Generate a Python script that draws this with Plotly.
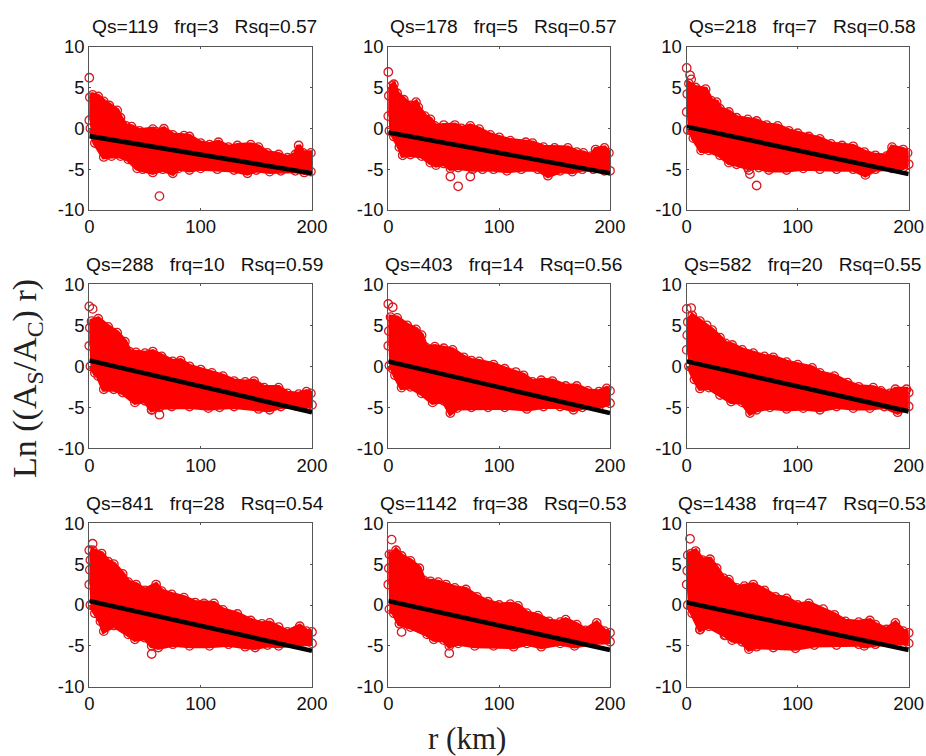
import plotly.graph_objects as go

W, H = 926, 756
FIG_BG = "white"

titles = ["Qs=119   frq=3   Rsq=0.57", "Qs=178   frq=5   Rsq=0.57", "Qs=218   frq=7   Rsq=0.58",
          "Qs=288   frq=10   Rsq=0.59", "Qs=403   frq=14   Rsq=0.56", "Qs=582   frq=20   Rsq=0.55",
          "Qs=841   frq=28   Rsq=0.54", "Qs=1142   frq=38   Rsq=0.53", "Qs=1438   frq=47   Rsq=0.53"]

x_ticks = [0, 100, 200]
x_tick_labels = ["0", "100", "200"]
y_ticks = [-10, -5, 0, 5, 10]
y_tick_labels = ["-10", "-5", "0", "5", "10"]

# Outer edge of each dense point cloud (r, value)
upper_1 = [(0,1),(0.5,3.8),(3,4.1),(8,3.9),(13,3.3),(18,2.8),(25,2.2),(28,1.3),(33,0.3),(38,0.2),(45,-0.3),(57,-0.1),(60,-0.4),(67,-0.05),(75,-0.8),(85,-0.9),(90,-1.0),(100,-1.8),(108,-2.0),(116,-1.7),(125,-2.3),(133,-2.1),(145,-2.0),(152,-2.3),(160,-3.0),(170,-3.2),(178,-3.6),(185,-3.2),(188,-2.1),(192,-3),(199,-3)]
lower_1 = [(1,0),(5,-1.8),(13,-3.5),(20,-3.4),(28,-3.4),(35,-3.8),(43,-4.9),(48,-5),(57,-5.4),(66,-5),(75,-5.5),(80,-4.9),(90,-5.1),(100,-4.9),(115,-5),(130,-5.1),(142,-5.5),(150,-5.1),(162,-5.3),(172,-5.2),(185,-5.2),(193,-5.4),(199,-5.3)]
outliers_1 = [(0,6.2),(63,-8.3)]
fit_1 = (-0.95, -5.5)

upper_2 = [(0,1.5),(0.5,4),(3,5.2),(5,5.4),(8,4.3),(14,3.5),(20,2.8),(25,3.2),(27,2.6),(33,1.5),(38,1.1),(42,0.3),(50,0.4),(60,0.4),(66,0),(74,0.3),(82,-0.1),(92,-0.8),(100,-1.1),(110,-1.5),(124,-1.7),(130,-1.8),(140,-2.3),(150,-2.4),(162,-2.4),(170,-2.9),(176,-3),(183,-3.4),(187,-2.6),(195,-2.4),(199,-3)]
lower_2 = [(1,-0.3),(5,-1),(10,-2.3),(13,-3.3),(20,-3.2),(30,-3.4),(38,-4.2),(43,-4.5),(50,-4.3),(56,-4.9),(63,-4.8),(76,-5),(85,-5),(95,-5),(107,-5.2),(120,-5),(135,-5),(144,-5.8),(155,-5.2),(166,-5.3),(175,-5),(185,-5),(195,-5.2),(200,-5.2)]
outliers_2 = [(0,6.9),(63,-7.1),(56,-5.9),(74,-5.9)]
fit_2 = (-0.5, -5.5)

upper_3 = [(0,2),(0.5,4.2),(2,5.5),(8,5),(17,4.8),(22,3.4),(27,3.2),(30,2.4),(38,2),(45,1.3),(55,1.1),(63,0.9),(72,0.4),(82,0.3),(92,-0.3),(100,-0.6),(110,-1),(120,-1.3),(130,-1.9),(140,-2.1),(150,-2.2),(160,-2.9),(170,-3.3),(180,-3.4),(185,-2.3),(195,-2.6),(199,-3)]
lower_3 = [(1,-0.2),(4,-0.3),(6,-1.2),(13,-2.7),(20,-2.7),(30,-3.3),(38,-4.2),(45,-4.4),(55,-4.8),(65,-4.8),(74,-5.1),(90,-5.1),(105,-4.9),(120,-5),(135,-5),(150,-5),(161,-5.7),(170,-5),(185,-4.9),(195,-4.8),(200,-4.4)]
outliers_3 = [(0,7.4),(3,6.5),(4,6),(56,-5.1),(57,-5.6),(63,-7)]
fit_3 = (0.2, -5.6)

upper_4 = [(0,2.5),(0.5,4.7),(2,5.5),(8,5.8),(17,4.8),(25,4.1),(32,3),(36,1.8),(42,1.7),(50,1.6),(57,1.8),(65,1.2),(75,0.6),(82,0.7),(90,0),(100,-0.4),(110,-0.8),(120,-1.2),(130,-1.8),(140,-1.9),(148,-1.8),(157,-2.6),(170,-2.6),(178,-3.3),(188,-3.4),(195,-3.1),(199,-3.3)]
lower_4 = [(1,0),(5,-0.8),(8,-1.2),(13,-2.8),(22,-2.8),(30,-3.2),(41,-4.4),(50,-4.2),(56,-5.3),(63,-5),(74,-4.9),(90,-4.9),(107,-5.1),(117,-5),(130,-4.9),(152,-5.2),(162,-5.3),(172,-4.9),(185,-4.8),(195,-4.9),(200,-4.7)]
outliers_4 = [(0,7.3),(3,7),(63,-5.9),(56,-5.3)]
fit_4 = (0.7, -5.6)

upper_5 = [(0,2.5),(0.5,4.3),(2,6),(8,5.9),(17,5),(25,4.5),(30,3.8),(34,2.3),(42,2.4),(50,2.2),(58,2),(68,1.1),(75,0.7),(82,0.6),(95,0.2),(105,-0.3),(115,-0.7),(122,-1.1),(130,-1.9),(138,-1.7),(148,-1.8),(160,-2.4),(170,-2.4),(180,-3),(190,-3.1),(197,-2.7),(200,-3)]
lower_5 = [(1,0.1),(4,-0.3),(6,-1.1),(12,-2.6),(20,-2.5),(30,-3.3),(40,-4.4),(50,-4.2),(56,-5.7),(62,-5.1),(75,-5),(90,-5),(105,-5),(125,-5.2),(140,-4.9),(155,-4.9),(167,-5.3),(175,-5),(190,-4.9),(200,-4.5)]
outliers_5 = [(0,7.6),(4,7.2)]
fit_5 = (0.6, -5.7)

upper_6 = [(0,2),(0.5,3.8),(1,5.4),(5,6.2),(12,5.5),(18,5),(23,4.4),(30,3.5),(35,2.8),(41,2.6),(50,2),(60,1.6),(70,1.2),(78,1.1),(90,0.5),(100,0.2),(113,-0.2),(120,-0.8),(133,-1.2),(145,-2),(155,-2.5),(168,-2.6),(175,-3),(183,-3.3),(188,-2.8),(198,-2.8),(200,-3.2)]
lower_6 = [(2,0),(7,-1.6),(12,-2.7),(20,-2.6),(30,-3.5),(40,-4.3),(50,-4.4),(57,-5.7),(63,-5.3),(75,-5),(90,-5.2),(105,-5.1),(120,-5.3),(135,-4.9),(150,-5.1),(165,-5.1),(178,-4.9),(190,-5.6),(200,-4.9)]
outliers_6 = [(0,7),(4,7.1)]
fit_6 = (0.6, -5.5)

upper_7 = [(0,2.5),(0.5,4.3),(1,5.5),(3,6.7),(11,6.3),(17,5.3),(22,5),(30,3.8),(35,2.8),(42,2.5),(50,1.8),(60,2.5),(65,1.7),(74,1.3),(85,0.9),(95,0.3),(103,0.2),(112,0.2),(120,-0.6),(133,-1.1),(145,-1.9),(155,-2.3),(162,-2.2),(170,-2.7),(178,-3.3),(189,-2.6),(195,-3.2),(200,-3.3)]
lower_7 = [(1,0),(5,-1),(10,-2),(13,-3.2),(22,-2.5),(35,-3.6),(41,-4.2),(50,-4),(56,-5),(62,-5.2),(75,-4.8),(90,-5),(108,-5),(125,-4.8),(140,-5.1),(149,-5.2),(160,-4.9),(170,-5),(185,-4.8),(200,-4.7)]
outliers_7 = [(3,7.5),(0,6.7),(56,-6)]
fit_7 = (0.5, -5.6)

upper_8 = [(0,2.5),(0.5,4.5),(1,6.2),(3,6.1),(7,6.7),(12,6),(20,5.4),(28,4.5),(32,3),(38,2.9),(45,2.8),(52,2.5),(60,2.1),(70,1.9),(80,1),(90,0.4),(100,0),(110,0.1),(117,-0.1),(125,-1),(135,-1.3),(145,-2),(155,-2.1),(160,-1.8),(170,-2.4),(178,-3.1),(188,-2.2),(195,-3.2),(200,-3.4)]
lower_8 = [(1,-0.5),(5,-1),(10,-2.3),(20,-2.7),(35,-3.6),(41,-4.2),(50,-4.3),(55,-5),(63,-4.7),(78,-5),(95,-5),(113,-5.1),(125,-4.7),(138,-5.1),(155,-4.7),(168,-5),(185,-4.6),(200,-4.5)]
outliers_8 = [(3,8),(12,-3.3),(55,-5.9)]
fit_8 = (0.5, -5.5)

upper_9 = [(0,2.5),(0.5,4.2),(1,6.1),(4,6.3),(8,6.6),(14,5.5),(21,5.6),(27,4.5),(33,3.3),(38,3.1),(45,2.1),(52,2.3),(60,2.5),(70,1.8),(80,1),(90,0.8),(100,0),(110,0.2),(123,-0.5),(133,-1.2),(143,-2),(155,-2.1),(165,-1.9),(170,-2.4),(180,-3),(188,-2.2),(195,-3.2),(200,-3.4)]
lower_9 = [(1,0),(5,-1),(12,-3),(20,-2.6),(35,-3.7),(41,-4.3),(50,-4.5),(56,-5.4),(63,-5.1),(78,-5.2),(98,-5.3),(115,-4.9),(135,-4.9),(155,-4.8),(160,-5),(170,-4.8),(190,-4.6),(200,-4.7)]
outliers_9 = [(3,8.1),(12,-3),(34,-3.7)]
fit_9 = (0.3, -5.5)

uppers = [upper_1, upper_2, upper_3, upper_4, upper_5, upper_6, upper_7, upper_8, upper_9]
lowers = [lower_1, lower_2, lower_3, lower_4, lower_5, lower_6, lower_7, lower_8, lower_9]
outliers = [outliers_1, outliers_2, outliers_3, outliers_4, outliers_5, outliers_6, outliers_7, outliers_8, outliers_9]
fits = [fit_1, fit_2, fit_3, fit_4, fit_5, fit_6, fit_7, fit_8, fit_9]

# Layout in pixels
col_left = [89.3, 388.3, 686.7]
col_right = [312, 610, 908.7]
row_top = [46.7, 284.3, 523.3]
row_bottom = [210, 448.3, 686.7]
title_center_px = [204.5, 503.5, 802]
title_mid_px = [26, 264, 503]

RED = "#ff0000"
RING = "#d81a22"
SANS = "Liberation Sans"
SERIF = "Liberation Serif"

fig = go.Figure()
annotations = []
for i in range(9):
    r, c = divmod(i, 3)
    suffix = "" if i == 0 else str(i + 1)
    up, lo, out = uppers[i], lowers[i], outliers[i]
    xa, ya = "x" + suffix, "y" + suffix
    # rings first so the solid cloud only leaves their outer arcs showing
    pts = up + lo + out
    fig.add_trace(go.Scatter(x=[p[0] for p in pts], y=[p[1] for p in pts], mode="markers",
                             marker=dict(symbol="circle-open", size=8.5, color=RING, line=dict(width=1.3, color=RING)),
                             xaxis=xa, yaxis=ya, cliponaxis=False, showlegend=False))
    poly = up + lo[::-1]
    fig.add_trace(go.Scatter(x=[p[0] for p in poly], y=[p[1] for p in poly], mode="lines", fill="toself",
                             fillcolor=RED, line=dict(color=RED, width=5),
                             xaxis=xa, yaxis=ya, cliponaxis=False, showlegend=False))
    fig.add_trace(go.Scatter(x=[0, 200], y=list(fits[i]), mode="lines", line=dict(color="black", width=4.6),
                             xaxis=xa, yaxis=ya, cliponaxis=False, showlegend=False))
    common = dict(showline=True, linecolor="#555555", linewidth=1.2, mirror="ticks", ticks="inside", ticklen=2,
                  tickcolor="#555555", showgrid=False, zeroline=False, automargin=False,
                  tickfont=dict(family=SANS, size=18.5, color="#111111"))
    fig.layout["xaxis" + suffix] = go.layout.XAxis(domain=[col_left[c] / W, col_right[c] / W], range=[0, 200],
                                                   anchor=ya, tickvals=x_ticks, ticktext=x_tick_labels, **common)
    fig.layout["yaxis" + suffix] = go.layout.YAxis(domain=[1 - row_bottom[r] / H, 1 - row_top[r] / H], range=[-10, 10],
                                                   anchor=xa, tickvals=y_ticks, ticktext=y_tick_labels, **common)
    annotations.append(dict(text=titles[i].replace(" ", "\u00a0"), xref="paper", yref="paper", x=title_center_px[c] / W, y=1 - title_mid_px[r] / H,
                            xanchor="center", yanchor="middle", showarrow=False, font=dict(family=SANS, size=19.2, color="#111111")))

annotations.append(dict(text="Ln ((A<sub>S</sub>/A<sub>C</sub>) r)", xref="paper", yref="paper", x=27 / W, y=1 - 379 / H,
                        xanchor="center", yanchor="middle", textangle=-90, showarrow=False,
                        font=dict(family=SERIF, size=34, color="#222222")))
annotations.append(dict(text="r (km)", xref="paper", yref="paper", x=467 / W, y=1 - 738 / H,
                        xanchor="center", yanchor="middle", showarrow=False,
                        font=dict(family=SERIF, size=31, color="#222222")))

fig.update_layout(width=W, height=H, margin=dict(l=0, r=0, t=0, b=0, autoexpand=False), paper_bgcolor=FIG_BG, plot_bgcolor=FIG_BG,
                  showlegend=False, annotations=annotations)
fig.write_html("out.html", post_script="document.body.style.margin='0';", config=dict(displayModeBar=False))
